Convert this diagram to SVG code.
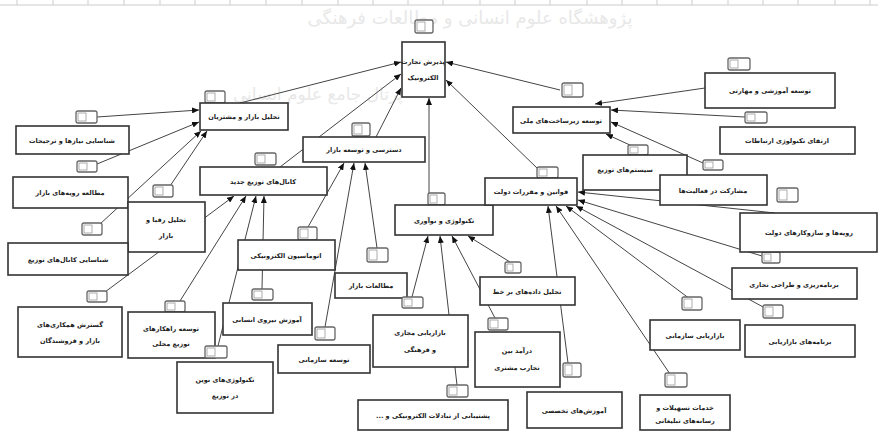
<svg xmlns="http://www.w3.org/2000/svg" width="878" height="433" viewBox="0 0 878 433">
<defs>
<marker id="ah" markerWidth="7" markerHeight="6" refX="7" refY="3" orient="auto" markerUnits="userSpaceOnUse">
<path d="M0,0 L7,3 L0,6 z" fill="#111"/>
</marker>
<style>
.box{fill:#fff;stroke:#333;stroke-width:1.6}
.tag{fill:#fff;stroke:#666;stroke-width:1.3}
.tin{fill:none;stroke:#999;stroke-width:0.8}
.t{font-family:"DejaVu Sans",sans-serif;font-size:6.5px;font-weight:bold;fill:#222;text-anchor:middle;direction:rtl}
.e{stroke:#444;stroke-width:1;fill:none;marker-end:url(#ah)}
.wm{font-family:"DejaVu Sans",sans-serif;fill:#e8e8e8;text-anchor:middle;direction:rtl}
.grid{stroke:#ccc;stroke-width:1}
</style>
</defs>
<rect width="878" height="433" fill="#fff"/>
<g id="watermark">
<text class="wm" x="470" y="24" font-size="18">پژوهشگاه علوم انسانی و مطالعات فرهنگی</text>
<text class="wm" x="318" y="100" font-size="17">پرتال جامع علوم انسانی</text>
</g>
<g id="grid">
<line class="grid" x1="0" y1="5" x2="878" y2="5"/>
<path class="grid" d="M17,0V5M53,0V5M88,0V5M124,0V5M160,0V5M195,0V5M230,0V5M266,0V5M302,0V5M338,0V5M373,0V5M408,0V5M443,0V5M480,0V5M515,0V5M550,0V5M587,0V5M622,0V5M657,0V5M692,0V5M728,0V5M763,0V5M798,0V5M835,0V5M870,0V5"/>
</g>
<g id="connectors">
<line class="e" x1="240" y1="103" x2="401" y2="62"/>
<line class="e" x1="280" y1="167" x2="401" y2="74"/>
<line class="e" x1="376" y1="137" x2="401" y2="88"/>
<line class="e" x1="429" y1="193" x2="429" y2="98"/>
<line class="e" x1="537" y1="168" x2="446" y2="80"/>
<line class="e" x1="560" y1="90" x2="446" y2="62"/>
<line class="e" x1="97" y1="117" x2="199" y2="110"/>
<line class="e" x1="97" y1="164" x2="199" y2="122"/>
<line class="e" x1="100" y1="224" x2="201" y2="131"/>
<line class="e" x1="170" y1="186" x2="207" y2="131"/>
<line class="e" x1="105" y1="292" x2="234" y2="196"/>
<line class="e" x1="180" y1="301" x2="246" y2="196"/>
<line class="e" x1="218" y1="346" x2="256" y2="196"/>
<line class="e" x1="262" y1="289" x2="264" y2="196"/>
<line class="e" x1="308" y1="227" x2="344" y2="163"/>
<line class="e" x1="325" y1="327" x2="354" y2="163"/>
<line class="e" x1="377" y1="248" x2="365" y2="163"/>
<line class="e" x1="412" y1="297" x2="428" y2="236"/>
<line class="e" x1="457" y1="385" x2="440" y2="236"/>
<line class="e" x1="495" y1="318" x2="452" y2="236"/>
<line class="e" x1="510" y1="262" x2="468" y2="236"/>
<line class="e" x1="775" y1="213" x2="578" y2="192"/>
<line class="e" x1="762" y1="256" x2="578" y2="200"/>
<line class="e" x1="765" y1="308" x2="576" y2="206"/>
<line class="e" x1="690" y1="299" x2="566" y2="206"/>
<line class="e" x1="670" y1="374" x2="556" y2="206"/>
<line class="e" x1="568" y1="363" x2="548" y2="206"/>
<line class="e" x1="705" y1="88" x2="595" y2="104"/>
<line class="e" x1="745" y1="117" x2="611" y2="110"/>
<line class="e" x1="703" y1="163" x2="611" y2="122"/>
<line class="e" x1="632" y1="146" x2="606" y2="134"/>
</g>
<g id="C"><rect class="tag" x="415" y="20" width="18" height="13" rx="2"/><rect class="tin" x="417" y="22" width="8" height="9"/><rect class="box" x="402" y="42" width="43" height="55"/><text class="t" x="423" y="64" font-size="5.5">پذیرش تجارت</text><text class="t" x="423" y="80" font-size="5.5">الکترونیک</text></g>
<g id="A1"><rect class="tag" x="205" y="91" width="20" height="12" rx="2"/><rect class="tin" x="207" y="93" width="8" height="8"/><rect class="box" x="200" y="103" width="88" height="27"/><text class="t" x="244" y="119">تحلیل بازار و مشتریان</text></g>
<g id="L1"><rect class="tag" x="76" y="111" width="21" height="12" rx="2"/><rect class="tin" x="78" y="113" width="8" height="8"/><rect class="box" x="16" y="126" width="113" height="28"/><text class="t" x="72" y="143">شناسایی نیازها و ترجیحات</text></g>
<g id="L2"><rect class="tag" x="77" y="161" width="20" height="11" rx="2"/><rect class="tin" x="79" y="163" width="8" height="7"/><rect class="box" x="13" y="177" width="115" height="31"/><text class="t" x="70" y="195">مطالعه رویه‌های بازار</text></g>
<g id="L3"><rect class="tag" x="153" y="185" width="20" height="12" rx="2"/><rect class="tin" x="155" y="187" width="8" height="8"/><rect class="box" x="128" y="202" width="77" height="50"/><text class="t" x="166" y="222">تحلیل رقبا و</text><text class="t" x="166" y="238">بازار</text></g>
<g id="L4"><rect class="tag" x="82" y="223" width="20" height="12" rx="2"/><rect class="tin" x="84" y="225" width="8" height="8"/><rect class="box" x="8" y="243" width="120" height="32"/><text class="t" x="68" y="262">شناسایی کانال‌های توزیع</text></g>
<g id="A2"><rect class="tag" x="255" y="153" width="21" height="12" rx="2"/><rect class="tin" x="257" y="155" width="8" height="8"/><rect class="box" x="200" y="167" width="127" height="28"/><text class="t" x="263" y="184">کانال‌های توزیع جدید</text></g>
<g id="A3"><rect class="tag" x="352" y="123" width="18" height="13" rx="2"/><rect class="tin" x="354" y="125" width="8" height="9"/><rect class="box" x="303" y="137" width="122" height="25"/><text class="t" x="364" y="152">دسترسی و توسعه بازار</text></g>
<g id="L5"><rect class="tag" x="87" y="291" width="20" height="11" rx="2"/><rect class="tin" x="89" y="293" width="8" height="7"/><rect class="box" x="18" y="307" width="104" height="50"/><text class="t" x="70" y="327">گسترش همکاری‌های</text><text class="t" x="70" y="343">بازار و فروشندگان</text></g>
<g id="L6"><rect class="tag" x="165" y="301" width="20" height="11" rx="2"/><rect class="tin" x="167" y="303" width="8" height="7"/><rect class="box" x="128" y="312" width="87" height="46"/><text class="t" x="171" y="331">توسعه راهکارهای</text><text class="t" x="171" y="346">توزیع محلی</text></g>
<g id="L7"><rect class="tag" x="205" y="346" width="22" height="12" rx="2"/><rect class="tin" x="207" y="348" width="8" height="8"/><rect class="box" x="177" y="362" width="96" height="51"/><text class="t" x="225" y="382">تکنولوژی‌های نوین</text><text class="t" x="225" y="398">در توزیع</text></g>
<g id="L8"><rect class="tag" x="252" y="289" width="21" height="11" rx="2"/><rect class="tin" x="254" y="291" width="8" height="7"/><rect class="box" x="223" y="303" width="89" height="32"/><text class="t" x="267" y="322">آموزش نیروی انسانی</text></g>
<g id="L9"><rect class="tag" x="315" y="327" width="20" height="13" rx="2"/><rect class="tin" x="317" y="329" width="8" height="9"/><rect class="box" x="278" y="345" width="92" height="28"/><text class="t" x="324" y="362">توسعه سازمانی</text></g>
<g id="L10"><rect class="tag" x="298" y="227" width="19" height="13" rx="2"/><rect class="tin" x="300" y="229" width="8" height="9"/><rect class="box" x="238" y="240" width="97" height="30"/><text class="t" x="286" y="258">اتوماسیون الکترونیکی</text></g>
<g id="L11"><rect class="tag" x="367" y="248" width="21" height="14" rx="2"/><rect class="tin" x="369" y="250" width="8" height="10"/><rect class="box" x="335" y="273" width="72" height="25"/><text class="t" x="371" y="288">مطالعات بازار</text></g>
<g id="A4"><rect class="tag" x="428" y="193" width="17" height="12" rx="2"/><rect class="tin" x="430" y="195" width="7" height="8"/><rect class="box" x="395" y="205" width="98" height="30"/><text class="t" x="444" y="223">تکنولوژی و نوآوری</text></g>
<g id="L12"><rect class="tag" x="402" y="297" width="21" height="11" rx="2"/><rect class="tin" x="404" y="299" width="8" height="7"/><rect class="box" x="373" y="315" width="95" height="52"/><text class="t" x="420" y="335">بازاریابی مجازی</text><text class="t" x="420" y="352">و فرهنگی</text></g>
<g id="L13"><rect class="tag" x="447" y="385" width="21" height="12" rx="2"/><rect class="tin" x="449" y="387" width="8" height="8"/><rect class="box" x="358" y="400" width="150" height="30"/><text class="t" x="433" y="418">پشتیبانی از تبادلات الکترونیکی و ...</text></g>
<g id="L14"><rect class="tag" x="505" y="262" width="16" height="11" rx="2"/><rect class="tin" x="507" y="264" width="6" height="7"/><rect class="box" x="480" y="277" width="95" height="28"/><text class="t" x="527" y="294">تحلیل داده‌های بر خط</text></g>
<g id="L15"><rect class="tag" x="488" y="318" width="20" height="12" rx="2"/><rect class="tin" x="490" y="320" width="8" height="8"/><rect class="box" x="475" y="332" width="85" height="55"/><text class="t" x="517" y="353">درآمد بین</text><text class="t" x="517" y="370">تجارب مشتری</text></g>
<g id="L16"><rect class="tag" x="563" y="363" width="18" height="14" rx="2"/><rect class="tin" x="565" y="365" width="7" height="10"/><rect class="box" x="527" y="392" width="95" height="36"/><text class="t" x="574" y="413">آموزش‌های تخصصی</text></g>
<g id="L17"><rect class="tag" x="665" y="373" width="22" height="14" rx="2"/><rect class="tin" x="667" y="375" width="8" height="10"/><rect class="box" x="640" y="395" width="90" height="35"/><text class="t" x="685" y="410">خدمات تسهیلات و</text><text class="t" x="685" y="423">رسانه‌های تبلیغاتی</text></g>
<g id="L18"><rect class="tag" x="682" y="297" width="20" height="13" rx="2"/><rect class="tin" x="684" y="299" width="8" height="9"/><rect class="box" x="650" y="320" width="90" height="30"/><text class="t" x="695" y="338">بازاریابی سازمانی</text></g>
<g id="L19"><rect class="tag" x="763" y="305" width="20" height="13" rx="2"/><rect class="tin" x="765" y="307" width="8" height="9"/><rect class="box" x="745" y="325" width="110" height="32"/><text class="t" x="800" y="344">برنامه‌های بازاریابی</text></g>
<g id="L20"><rect class="tag" x="762" y="252" width="18" height="11" rx="2"/><rect class="tin" x="764" y="254" width="7" height="7"/><rect class="box" x="732" y="268" width="125" height="31"/><text class="t" x="794" y="287">برنامه‌ریزی و طراحی تجاری</text></g>
<g id="L21"><rect class="tag" x="777" y="188" width="21" height="14" rx="2"/><rect class="tin" x="779" y="190" width="8" height="10"/><rect class="box" x="740" y="213" width="137" height="39"/><text class="t" x="809" y="235">رویه‌ها و سازوکارهای دولت</text></g>
<g id="A7"><rect class="tag" x="628" y="145" width="20" height="10" rx="2"/><rect class="tin" x="630" y="147" width="8" height="6"/><rect class="box" x="583" y="155" width="104" height="35"/><text class="t" x="625" y="172">سیستم‌های توزیع</text></g>
<g id="L22"><rect class="tag" x="703" y="160" width="20" height="10" rx="2"/><rect class="tin" x="705" y="162" width="8" height="6"/><rect class="box" x="660" y="175" width="107" height="30"/><text class="t" x="713" y="193">مشارکت در فعالیت‌ها</text></g>
<g id="A6"><rect class="tag" x="562" y="83" width="21" height="14" rx="2"/><rect class="tin" x="564" y="85" width="8" height="10"/><rect class="box" x="513" y="107" width="97" height="26"/><text class="t" x="561" y="123">توسعه زیرساخت‌های ملی</text></g>
<g id="A5"><rect class="tag" x="537" y="167" width="21" height="11" rx="2"/><rect class="tin" x="539" y="169" width="8" height="7"/><rect class="box" x="485" y="178" width="92" height="27"/><text class="t" x="531" y="194">قوانین و مقررات دولت</text></g>
<g id="R1"><rect class="tag" x="728" y="58" width="22" height="12" rx="2"/><rect class="tin" x="730" y="60" width="8" height="8"/><rect class="box" x="705" y="73" width="130" height="35"/><text class="t" x="770" y="93">توسعه آموزشی و مهارتی</text></g>
<g id="R2"><rect class="tag" x="745" y="112" width="22" height="11" rx="2"/><rect class="tin" x="747" y="114" width="8" height="7"/><rect class="box" x="720" y="127" width="135" height="27"/><text class="t" x="787" y="143">ارتقای تکنولوژی ارتباطات</text></g>
</svg>
